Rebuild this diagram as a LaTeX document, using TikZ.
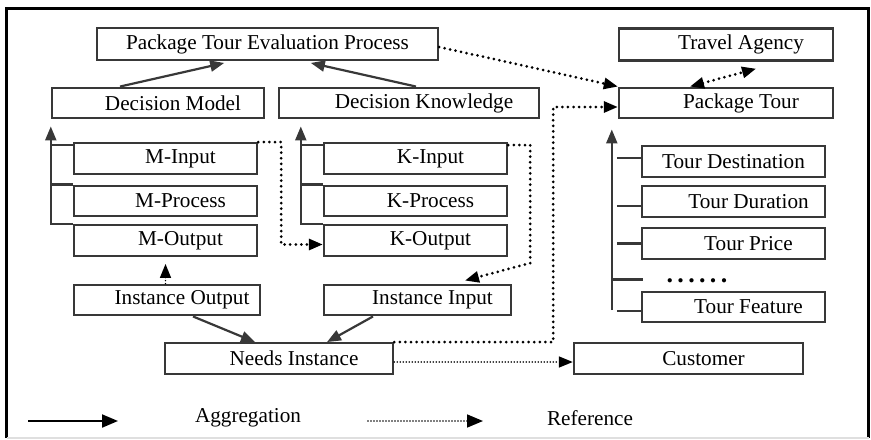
\documentclass[tikz,border=0pt]{standalone}
\usepackage{fontspec}
\setmainfont{Liberation Serif}
\usetikzlibrary{arrows.meta,calc}
\newcommand{\lpad}{\hspace*{15pt}}
\tikzset{
  box/.style={draw=black!78, line width=1.2pt, inner sep=0pt, minimum height=15.25pt, font=\fontsize{10.6}{12}\selectfont},
  agg/.style={draw=black!78, line width=1.1pt, -{Triangle[length=7pt,width=5.5pt]}},
  stub/.style={draw=black!78, line width=1.1pt},
  ref/.style={line width=1.5pt, dash pattern=on 0pt off 2.8pt, line cap=round, -{Triangle[length=7pt,width=5.5pt]}},
  thinref/.style={line width=0.8pt, dash pattern=on 0pt off 1.5pt, line cap=round, -{Triangle[length=7pt,width=5.5pt]}},
}
\begin{document}
\begin{tikzpicture}[x=0.5pt,y=-0.5pt]
\useasboundingbox (0,0) rectangle (871,439);
% Frame
\draw[line width=1.6pt] (6.5,438) -- (6.5,8.5) -- (868.5,8.5) -- (868.5,438);
\draw[gray!25,line width=0.6pt] (6.5,438) -- (868.5,438);

% Evaluation side
\node[box,minimum width=170.5pt,minimum height=16pt] (ptep) at (267.5,44) {Package Tour Evaluation Process};
\node[box,minimum width=106pt] (dm) at (158,103) {\lpad Decision Model};
\node[box,minimum width=130pt] (dk) at (409,103) {\lpad Decision Knowledge};
\node[box,minimum width=91.5pt] (mi) at (165.5,158.5) {\lpad M-Input};
\node[box,minimum width=91.5pt] (mp) at (165.5,201) {\lpad M-Process};
\node[box,minimum width=91.5pt] (mo) at (165.5,240.5) {\lpad M-Output};
\node[box,minimum width=91.5pt] (ki) at (415.5,158.5) {\lpad K-Input};
\node[box,minimum width=91.5pt] (kp) at (415.5,201) {\lpad K-Process};
\node[box,minimum width=91.5pt] (ko) at (415.5,240.5) {\lpad K-Output};
\node[box,minimum width=93pt] (io) at (167,300) {\lpad Instance Output};
\node[box,minimum width=93.5pt] (ii) at (417.5,300) {\lpad Instance Input};
\node[box,minimum width=114pt] (ni) at (279,358.5) {\lpad Needs Instance};
\node[box,minimum width=114.5pt] (cu) at (688.5,358.5) {\lpad Customer};

% Tour side
\node[box,minimum width=107pt,minimum height=16pt] (ta) at (726,44.5) {\lpad Travel Agency};
\node[box,minimum width=107pt] (pt) at (726,103) {\lpad Package Tour};
\node[box,minimum width=91.5pt] (td) at (733.5,161.5) {Tour Destination};
\node[box,minimum width=91.5pt] (tdu) at (733.5,201.5) {\lpad Tour Duration};
\node[box,minimum width=91.5pt] (tp) at (733.5,243.5) {\lpad Tour Price};
\node[font=\bfseries\fontsize{13}{13}\selectfont,inner sep=0pt] (dots) at (697,281) {.\,.\,.\,.\,.\,.};
\node[box,minimum width=91.5pt] (tf) at (733.5,307) {\lpad Tour Feature};

% Aggregation
\draw[agg,shorten >=4pt] ([xshift=-19pt]dm.north) -- ([xshift=-17.75pt]ptep.south);
\draw[agg,shorten >=4pt] ([xshift=3.5pt]dk.north) -- ([xshift=17.75pt]ptep.south);
\coordinate (mtop) at ([yshift=-3.5pt]dm.south west);
\draw[agg] (mo.north west) -| (mtop);
\draw[stub] ([yshift=-1.5pt]mi.north west) -- ([yshift=-1.5pt]mi.north west -| mtop);
\draw[stub] (mp.north west) -- (mp.north west -| mtop);
\coordinate (ktop) at ($(ki.west |- dk.south)+(-11pt,-3.5pt)$);
\draw[agg] (ko.north west) -| (ktop);
\draw[stub] ([yshift=-1.5pt]ki.north west) -- ([yshift=-1.5pt]ki.north west -| ktop);
\draw[stub] (kp.north west) -- (kp.north west -| ktop);
\draw[agg] ([xshift=13pt]io.south) -- ([xshift=-12pt]ni.north);
\draw[agg] ([xshift=-22.25pt]ii.south) -- ([xshift=24pt]ni.north);
\coordinate (ttop) at ($(pt.south west)+(-3pt,-5pt)$);
\coordinate (tbot) at ($(tf.west)+(-14.5pt,-1.5pt)$);
\draw[agg] (tbot) -- (ttop);
\draw[stub] ([xshift=-12pt,yshift=1.75pt]td.west) -- ([yshift=1.75pt]td.west);
\draw[stub] ([xshift=-12pt,yshift=-2.25pt]tdu.west) -- ([yshift=-2.25pt]tdu.west);
\draw[stub] ([xshift=-12pt]tp.west) -- (tp.west);
\draw[stub] ([xshift=-27.5pt,yshift=0.8pt]dots.west) -- ([xshift=-11.5pt,yshift=0.8pt]dots.west);
\draw[stub] ([xshift=-12pt,yshift=-2pt]tf.west) -- ([yshift=-2pt]tf.west);

% Reference
\draw[ref] ([yshift=-1.5pt]ptep.east) -- (pt.north west);
\draw[ref,{Triangle[length=7pt,width=5.5pt]}-{Triangle[length=7pt,width=5.5pt]}] ([xshift=-18pt]pt.north) -- ([xshift=15pt,yshift=-3.5pt]ta.south);
\draw[ref] (mi.north east) -- ++(11.5pt,0) |- ([yshift=-2pt]ko.west);
\draw[ref] ([yshift=-1.5pt]ki.north east) -- ++(11pt,0) -- ++(0,-59pt) -- ([xshift=23.75pt,yshift=1.5pt]ii.north);
\draw[ref] (ni.north east) -- ++(79.5pt,0) |- ([yshift=-2pt]pt.west);
\draw[thinref] (io.north -| mo.south) -- ([yshift=-3.5pt]mo.south);
\draw[thinref] ([yshift=-1.75pt]ni.east) -- ([yshift=-1.75pt]cu.west);

% Legend
\coordinate (la1) at (28,421);
\coordinate (la2) at (118,421);
\draw[line width=1pt,-{Triangle[length=8pt,width=6.5pt]}] (la1) -- (la2);
\node[font=\fontsize{10.6}{12}\selectfont] (lagg) at (248,418) {Aggregation};
\coordinate (lr1) at (368,421);
\coordinate (lr2) at (483,421);
\draw[thinref,-{Triangle[length=8pt,width=6.5pt]}] (lr1) -- (lr2);
\node[font=\fontsize{10.6}{12}\selectfont] (lref) at (590,418) {Reference};
\end{tikzpicture}
\end{document}
